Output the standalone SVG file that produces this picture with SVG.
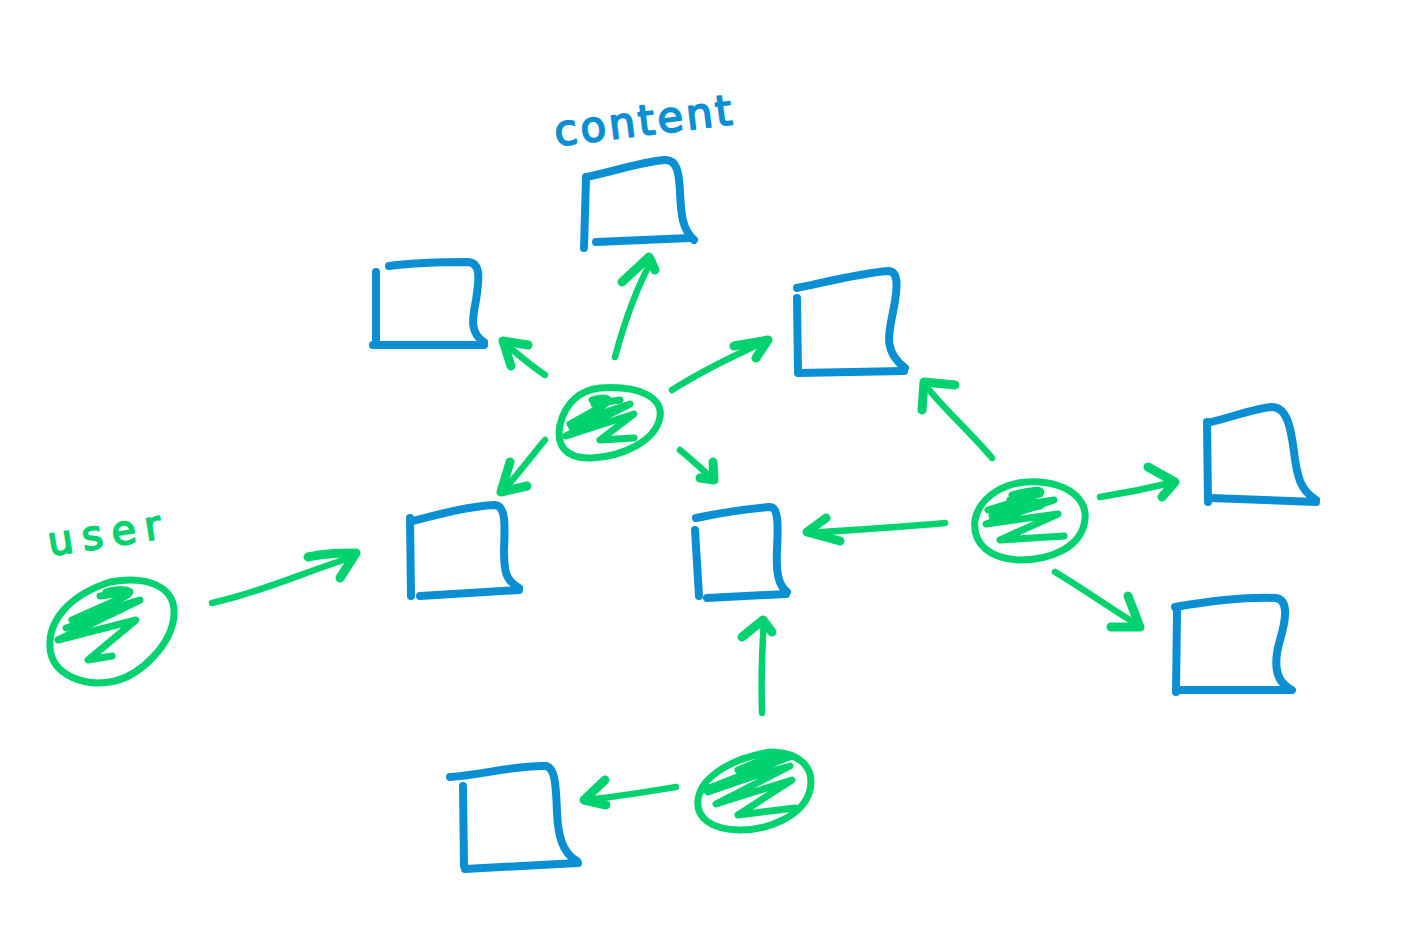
<svg xmlns="http://www.w3.org/2000/svg" width="1417" height="947" viewBox="0 0 1417 947">
  <style>
    .box { fill: none; stroke: #0b8fd3; stroke-width: 8; stroke-linecap: round; stroke-linejoin: round; }
    .usr { fill: none; stroke: #00d26f; stroke-width: 7; stroke-linecap: round; stroke-linejoin: round; }
    .scr { fill: none; stroke: #00d26f; stroke-width: 7; stroke-linecap: round; stroke-linejoin: round; }
    .arr { fill: none; stroke: #00d26f; stroke-width: 6.5; stroke-linecap: round; stroke-linejoin: round; }
    .head { fill: none; stroke: #00d26f; stroke-width: 9; stroke-linecap: round; stroke-linejoin: round; }
    .lbl { font-family: "DejaVu Sans", "Liberation Sans", sans-serif; font-weight: normal; stroke-width: 1.8; stroke-linejoin: round; }
  </style>
  <rect width="1417" height="947" fill="#ffffff"/>

  <!-- labels -->
  <text class="lbl" x="556" y="146" font-size="42" fill="#0b8fd3" stroke="#0b8fd3" letter-spacing="3" transform="rotate(-7 556 146)">content</text>
  <text class="lbl" x="50" y="556" font-size="40" fill="#00d26f" stroke="#00d26f" letter-spacing="9" transform="rotate(-9 50 556)">user</text>

  <!-- content boxes -->
  <g id="box-top">
    <path class="box" d="M586,178 L584,248"/>
    <path class="box" d="M586,177 C612,172 640,162 664,160 C677,159 679,172 680,192 C681,214 682,229 694,240"/>
    <path class="box" d="M596,242 L690,238"/>
  </g>
  <g id="box-upper-left">
    <path class="box" d="M376,272 L376,342"/>
    <path class="box" d="M389,266 C420,262 448,262 468,262 C480,263 480,275 476,300 C472,320 470,333 484,342"/>
    <path class="box" d="M373,345 L484,345"/>
  </g>
  <g id="box-upper-right">
    <path class="box" d="M797,298 L798,371"/>
    <path class="box" d="M797,288 C830,281 862,273 888,271 C899,271 898,287 893,312 C888,335 884,352 905,368"/>
    <path class="box" d="M798,373 L904,371"/>
  </g>
  <g id="box-mid-left">
    <path class="box" d="M410,518 L411,596"/>
    <path class="box" d="M413,521 C440,514 470,506 495,505 C506,506 505,525 504,550 C504,570 505,580 519,588"/>
    <path class="box" d="M420,596 L519,590"/>
  </g>
  <g id="box-center">
    <path class="box" d="M695,530 L699,596"/>
    <path class="box" d="M696,518 C720,513 745,509 770,507 C779,507 778,528 777,550 C776,572 778,585 787,592"/>
    <path class="box" d="M707,598 L786,594"/>
  </g>
  <g id="box-right-top">
    <path class="box" d="M1207,422 L1208,502"/>
    <path class="box" d="M1207,423 C1230,418 1255,408 1272,407 C1287,407 1291,428 1294,452 C1297,476 1300,490 1316,500"/>
    <path class="box" d="M1210,498 L1316,502"/>
  </g>
  <g id="box-right-bottom">
    <path class="box" d="M1177,612 L1176,692"/>
    <path class="box" d="M1175,607 C1210,601 1250,597 1276,598 C1289,600 1286,620 1280,640 C1273,664 1275,682 1292,690"/>
    <path class="box" d="M1180,690 L1291,690"/>
  </g>
  <g id="box-bottom">
    <path class="box" d="M463,786 L464,866"/>
    <path class="box" d="M450,777 C482,775 515,765 546,766 C556,768 556,790 557,812 C558,835 562,853 577,861"/>
    <path class="box" d="M465,869 L578,863"/>
  </g>

  <!-- users -->
  <g id="user-left">
    <path class="usr" d="M110,582 C150,575 176,588 174,615 C172,645 140,675 115,681 C85,688 52,675 50,648 C48,620 70,595 110,582 Z"/>
    <path class="scr" d="M106,592 C122,587 136,590 126,596 L72,620 L140,600 L58,640 L136,620 L88,660 L112,656"/>
    <path class="scr" d="M100,596 L130,592 M66,628 L120,610"/>
  </g>
  <g id="user-hub">
    <path class="usr" d="M600,388 C640,385 663,398 660,417 C656,440 625,456 592,458 C565,459 556,445 560,425 C565,403 580,390 600,388 Z"/>
    <path class="scr" d="M592,400 C604,396 614,398 604,405 L570,424 L630,404 L566,436 L634,414 L600,440 L634,438"/>
    <path class="scr" d="M594,404 L620,400 M572,428 L612,412"/>
  </g>
  <g id="user-right">
    <path class="usr" d="M1040,482 C1072,485 1090,502 1084,525 C1078,548 1050,560 1020,560 C990,559 972,544 975,520 C979,498 1005,479 1040,482 Z"/>
    <path class="scr" d="M1012,495 C1030,490 1045,488 1040,494 L988,510 L1054,500 L986,524 L1058,514 L1000,540 L1064,536"/>
    <path class="scr" d="M1010,500 L1036,494 M992,516 L1040,506"/>
  </g>
  <g id="user-bottom">
    <path class="usr" d="M770,752 C800,752 815,768 810,790 C804,815 770,830 740,830 C712,830 696,818 698,800 C700,780 725,760 770,752 Z"/>
    <path class="scr" d="M738,770 C760,760 776,755 792,756 L704,790 L790,766 L716,804 L792,780 L738,815 L795,808"/>
    <path class="scr" d="M742,770 L786,758 M708,792 L760,774"/>
  </g>

  <!-- connectors -->
  <g id="connectors">
    <path class="arr" d="M212,603 C260,592 300,574 355,556"/>
    <path class="head" d="M308,557 C325,553 342,553 356,553 L340,578"/>

    <path class="arr" d="M615,357 C625,320 638,285 652,260"/>
    <path class="head" d="M622,282 L649,257 L655,270"/>

    <path class="arr" d="M545,375 C530,365 515,352 503,342"/>
    <path class="head" d="M528,345 L503,341 L511,366"/>

    <path class="arr" d="M672,390 C700,372 735,355 768,340"/>
    <path class="head" d="M734,346 L768,340 L756,358"/>

    <path class="arr" d="M545,440 C530,458 515,478 502,492"/>
    <path class="head" d="M510,462 L501,492 L527,486"/>

    <path class="arr" d="M680,450 C692,460 703,470 714,480"/>
    <path class="head" d="M713,462 L714,480 L700,478"/>

    <path class="arr" d="M992,458 C970,432 945,410 925,385"/>
    <path class="head" d="M922,410 L924,382 L955,385"/>

    <path class="arr" d="M1100,497 C1125,493 1150,488 1175,482"/>
    <path class="head" d="M1148,467 L1175,482 L1162,497"/>

    <path class="arr" d="M1055,572 C1082,588 1110,608 1138,625"/>
    <path class="head" d="M1128,596 L1140,627 L1111,627"/>

    <path class="arr" d="M945,523 C900,527 855,530 808,533"/>
    <path class="head" d="M826,518 L807,532 L840,541"/>

    <path class="arr" d="M762,713 C761,682 762,650 764,620"/>
    <path class="head" d="M742,637 L763,620 L772,632"/>

    <path class="arr" d="M676,787 C645,792 615,797 585,800"/>
    <path class="head" d="M605,780 L584,800 L606,805"/>
  </g>
</svg>
